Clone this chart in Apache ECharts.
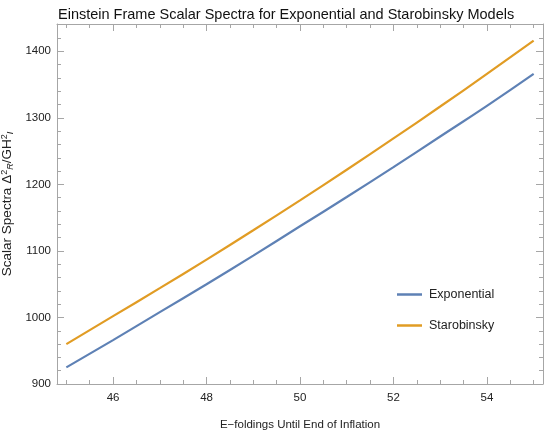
<!DOCTYPE html>
<html>
<head>
<meta charset="utf-8">
<script src="https://cdn.jsdelivr.net/npm/echarts@6/dist/echarts.min.js"></script>
<style>html,body{margin:0;padding:0;background:#fff}#c{width:545px;height:436px}</style>
</head>
<body>
<div id="c"></div>
<script>
const efolds = [45, 46, 47, 48, 49, 50, 51, 52, 53, 54, 55];
const exponential = [925, 966, 1008, 1050, 1093, 1137, 1181, 1226, 1272, 1318, 1366];
const starobinsky = [960, 1002, 1044, 1087, 1131, 1176, 1222, 1269, 1317, 1366, 1416];
const xMajorTicks = [46, 48, 50, 52, 54];
const xMinorTicks = [45, 45.5, 46.5, 47, 47.5, 48.5, 49, 49.5, 50.5, 51, 51.5, 52.5, 53, 53.5, 54.5, 55];
const yMajorTicks = [900, 1000, 1100, 1200, 1300, 1400];
const yMinorTicks = [920, 940, 960, 980, 1020, 1040, 1060, 1080, 1120, 1140, 1160, 1180, 1220, 1240, 1260, 1280, 1320, 1340, 1360, 1380, 1420, 1440];
const seriesNames = ['Exponential', 'Starobinsky'];

const FONT = 'Liberation Sans, Arial, sans-serif';
const AX = '#a6a6a6';
const X_MIN = 44.8, X_MAX = 55.2, Y_MIN = 900, Y_MAX = 1441;
const plain = v => String(v);

function xAx(pos, ticks, len, labels, line) {
  return {
    type: 'value', position: pos, offset: 0, min: X_MIN, max: X_MAX,
    splitLine: {show: false},
    axisLine: {show: line, onZero: false, lineStyle: {color: AX, width: 1}},
    axisTick: {show: true, inside: true, length: len, customValues: ticks, lineStyle: {color: AX}},
    axisLabel: labels ? {show: true, customValues: ticks, formatter: plain, color: '#222', fontSize: 11.5, fontFamily: FONT, margin: 8} : {show: false}
  };
}
function yAx(pos, ticks, len, labels, line) {
  return {
    type: 'value', position: pos, offset: 0, min: Y_MIN, max: Y_MAX,
    splitLine: {show: false},
    axisLine: {show: line, onZero: false, lineStyle: {color: AX, width: 1}},
    axisTick: {show: true, inside: true, length: len, customValues: ticks, lineStyle: {color: AX}},
    axisLabel: labels ? {show: true, customValues: ticks, formatter: plain, color: '#222', fontSize: 11.5, fontFamily: FONT, margin: 6} : {show: false}
  };
}

const xAxes = [
  xAx('bottom', xMajorTicks, 7, true, true),
  xAx('bottom', xMinorTicks, 4, false, false),
  xAx('top', xMajorTicks, 7, false, true),
  xAx('top', xMinorTicks, 4, false, false)
];
xAxes[0].name = 'E\u2212foldings Until End of Inflation';
xAxes[0].nameLocation = 'middle';
xAxes[0].nameGap = 35;
xAxes[0].nameTextStyle = {color: '#222', fontSize: 11.5, fontFamily: FONT};

const yAxes = [
  yAx('left', yMajorTicks, 7, true, true),
  yAx('left', yMinorTicks, 4, false, false),
  yAx('right', yMajorTicks, 7, false, true),
  yAx('right', yMinorTicks, 4, false, false)
];
yAxes[0].name = '{a|Scalar Spectra \u0394}{sup|2}{sub|R}{a|/GH}{sup|2}{sub|I}';
yAxes[0].nameLocation = 'middle';
yAxes[0].nameGap = 29;
yAxes[0].nameTextStyle = {
  color: '#222', fontSize: 13.5, fontFamily: FONT,
  rich: {
    a: {fontSize: 13.5, fontFamily: FONT, color: '#222', lineHeight: 15},
    sup: {fontSize: 9, fontFamily: FONT, color: '#222', lineHeight: 9, verticalAlign: 'top'},
    sub: {fontSize: 9, fontFamily: FONT, color: '#222', lineHeight: 9, verticalAlign: 'bottom', fontStyle: 'italic'}
  }
};

const chart = echarts.init(document.getElementById('c'), null, {renderer: 'canvas'});
chart.setOption({
  animation: false,
  backgroundColor: '#fff',
  title: {
    text: 'Einstein Frame Scalar Spectra for Exponential and Starobinsky Models',
    left: 53, top: 2,
    textStyle: {fontFamily: FONT, fontSize: 14.5, fontWeight: 'normal', color: '#111'}
  },
  legend: {
    orient: 'vertical', left: 397, top: 288, padding: 0,
    itemWidth: 25, itemHeight: 2.5, itemGap: 18,
    icon: 'rect',
    data: seriesNames,
    textStyle: {fontFamily: FONT, fontSize: 12.5, color: '#222', padding: [0, 0, 0, 2]}
  },
  grid: {left: 57, right: 2, top: 24, bottom: 52, containLabel: false, outerBoundsMode: 'none'},
  xAxis: xAxes,
  yAxis: yAxes,
  series: [
    {name: seriesNames[0], type: 'line', xAxisIndex: 0, yAxisIndex: 0, smooth: true, showSymbol: false,
     color: '#5e81b5', lineStyle: {width: 2.2, color: '#5e81b5'},
     data: efolds.map((n, i) => [n, exponential[i]])},
    {name: seriesNames[1], type: 'line', xAxisIndex: 0, yAxisIndex: 0, smooth: true, showSymbol: false,
     color: '#e19c24', lineStyle: {width: 2.2, color: '#e19c24'},
     data: efolds.map((n, i) => [n, starobinsky[i]])}
  ]
});
</script>
</body>
</html>
